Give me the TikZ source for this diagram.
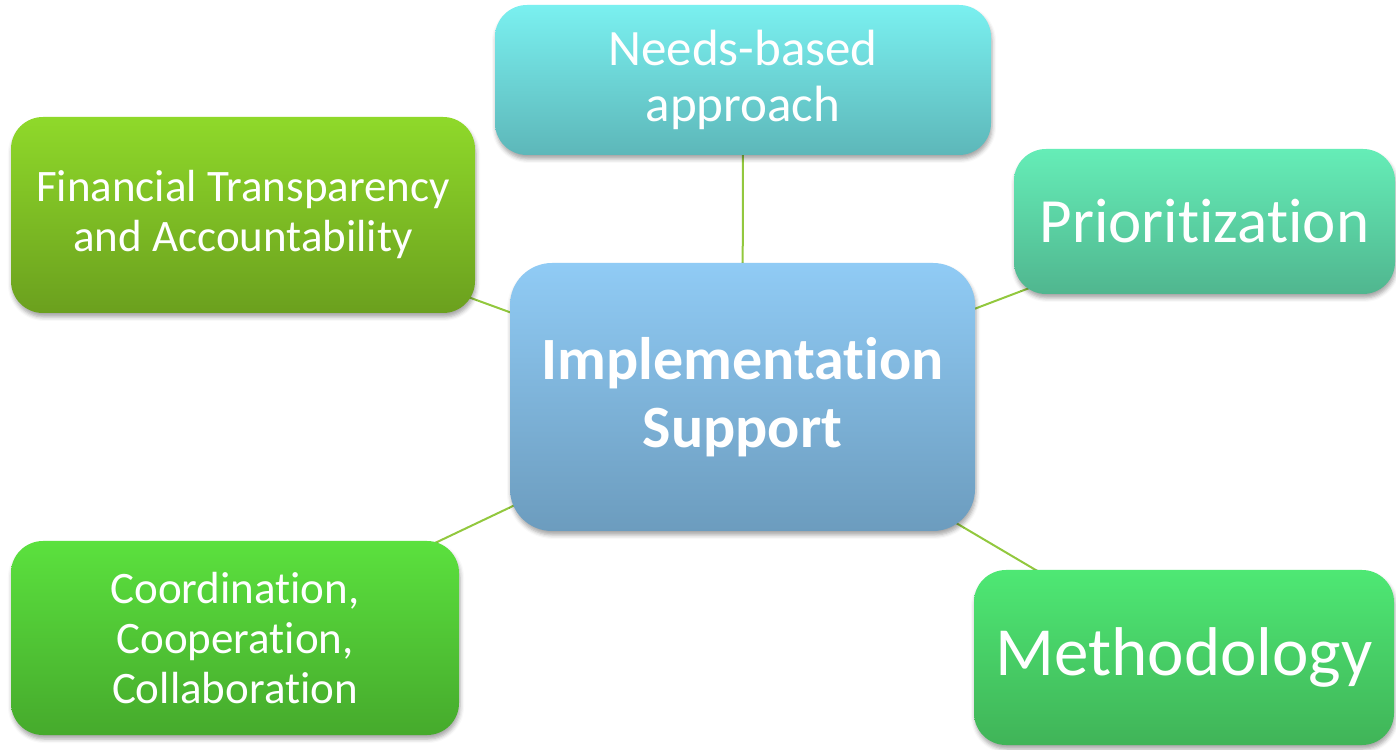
\documentclass[tikz,border=0pt]{standalone}
\usepackage{fontspec}
\setmainfont{Carlito}[Ligatures=NoCommon]
\usetikzlibrary{shadows.blur}
\pgfdeclarelayer{background}
\pgfsetlayers{background,main}
\definecolor{linegreen}{RGB}{146,200,62}
\definecolor{needsT}{RGB}{122,240,240}\definecolor{needsB}{RGB}{93,183,185}
\definecolor{finT}{RGB}{143,217,42}\definecolor{finB}{RGB}{107,160,30}
\definecolor{prioT}{RGB}{101,237,183}\definecolor{prioB}{RGB}{80,182,143}
\definecolor{coordT}{RGB}{91,225,62}\definecolor{coordB}{RGB}{70,170,44}
\definecolor{methT}{RGB}{78,232,116}\definecolor{methB}{RGB}{64,180,88}
\definecolor{centT}{RGB}{144,203,245}\definecolor{centB}{RGB}{108,156,190}
\tikzset{
  box/.style={rounded corners=32pt, inner sep=0pt, align=center, text=white,
    blur shadow={shadow xshift=1pt, shadow yshift=-4pt, shadow blur radius=4pt, shadow opacity=35}},
  conn/.style={draw=linegreen, line width=2pt}
}
\begin{document}
\begin{tikzpicture}[x=1pt,y=1pt]
\useasboundingbox (0,0) rectangle (1396,749);
\node[box, minimum width=496pt, minimum height=150pt, top color=needsT, bottom color=needsB,
  font=\fontsize{51}{56}\selectfont]
  (needs) at (743,669) {Needs-based\\approach};
\node[box, minimum width=464pt, minimum height=196pt, top color=finT, bottom color=finB,
  font=\fontsize{45}{50}\selectfont]
  (fin) at (243,534) {Financial Transparency\\and Accountability};
\node[box, minimum width=381pt, minimum height=145pt, top color=prioT, bottom color=prioB,
  font=\fontsize{63}{70}\selectfont]
  (prio) at (1204.5,527.5) {Prioritization};
\node[box, minimum width=448pt, minimum height=194pt, top color=coordT, bottom color=coordB,
  font=\fontsize{45}{50}\selectfont]
  (coord) at (235,111) {Coordination,\\Cooperation,\\Collaboration};
\node[box, minimum width=420pt, minimum height=175pt, top color=methT, bottom color=methB,
  font=\fontsize{69}{75}\selectfont]
  (meth) at (1184,91.5) {Methodology};
\node[box, rounded corners=42pt, minimum width=465pt, minimum height=268pt, top color=centT, bottom color=centB,
  font=\bfseries\fontsize{60}{68}\selectfont]
  (cent) at (742.5,352) {Implementation\\Support};
\begin{pgfonlayer}{background}
\draw[conn] (cent.center) -- (needs.center);
\draw[conn] (cent.center) -- (fin.center);
\draw[conn] (cent.center) -- (prio.center);
\draw[conn] (cent.center) -- (coord.center);
\draw[conn] (cent.center) -- (meth.center);
\end{pgfonlayer}
\end{tikzpicture}
\end{document}
